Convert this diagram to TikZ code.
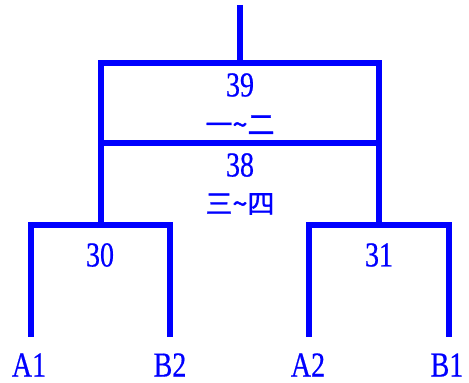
\documentclass[tikz,border=0pt]{standalone}
\usepackage{fontspec}
\setmainfont[FakeBold=0.6]{Liberation Serif}
\newfontfamily\cjk[FakeBold=1.2]{Noto Sans CJK SC}
\usepackage{graphicx}
\usepackage{tikz}
\usetikzlibrary{positioning,calc}

\newcommand{\slim}[1]{\scalebox{0.8}[1]{#1}}

\tikzset{
  link/.style={draw=blue, line width=6pt, line cap=butt, line join=miter},
  num/.style={text=blue, inner sep=0pt, font=\fontsize{35}{35}\selectfont},
  rng/.style={text=blue, inner sep=0pt, font=\cjk\fontsize{27}{27}\selectfont},
}

\begin{document}
\begin{tikzpicture}[x=1pt, y=1pt]
    \useasboundingbox (0,0) rectangle (469,383);
    % Junctions
    \coordinate (top) at (240,378);
    \coordinate (j39) at (240,320);
    \coordinate (j38) at (240,240);
    \coordinate (j30) at (101,158);
    \coordinate (j31) at (379,158);
    % Leaf ends
    \coordinate (a1end) at (31,46);
    \coordinate (b2end) at (170,46);
    \coordinate (a2end) at (309,46);
    \coordinate (b1end) at (449,46);
    % Root and upper bracket
    \draw[link] (top) -- (j39);
    \draw[link] (j30) |- (j39) -| (j31);
    \draw[link] (j30 |- j38) -- (j31 |- j38);
    % Lower brackets
    \draw[link] (a1end) |- (j30) -| (b2end);
    \draw[link] (a2end) |- (j31) -| (b1end);
    % Labels
    \node[num] (n39) at (240,298) {\slim{39}};
    \node[rng] (r39) at (240,258) {一\textasciitilde 二};
    \node[num] (n38) at (240,218) {\slim{38}};
    \node[rng] (r38) at (240,179) {三\textasciitilde 四};
    \node[num] (n30) at (100,128) {\slim{30}};
    \node[num] (n31) at (379,128) {\slim{31}};
    \node[num] (a1) at (29,18) {\slim{A1}};
    \node[num] (b2) at (170,18) {\slim{B2}};
    \node[num] (a2) at (308,18) {\slim{A2}};
    \node[num] (b1) at (447,18) {\slim{B1}};
\end{tikzpicture}
\end{document}
